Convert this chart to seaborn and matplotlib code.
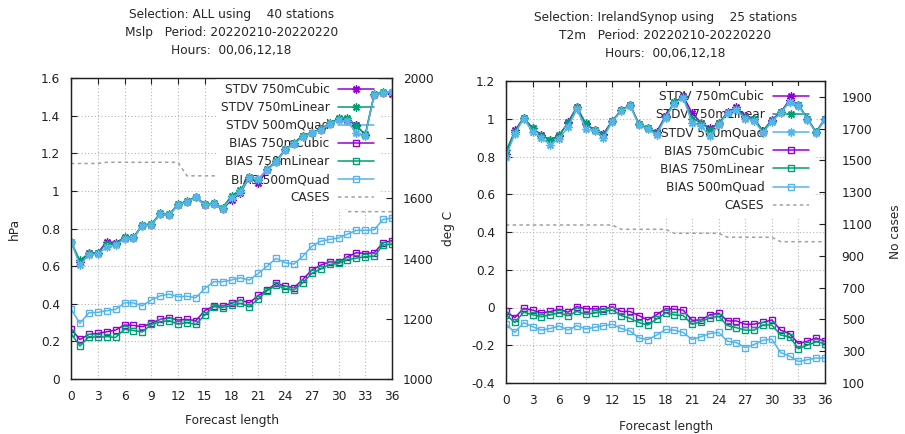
import matplotlib
matplotlib.use("Agg")
import matplotlib.pyplot as plt
import seaborn as sns
from matplotlib.ticker import FuncFormatter, FixedLocator

hours = list(range(37))
xticks = [0, 3, 6, 9, 12, 15, 18, 21, 24, 27, 30, 33, 36]

# ---------------- Left panel: Mslp ----------------
left_title = "Selection: ALL using    40 stations\nMslp   Period: 20220210-20220220\nHours:  00,06,12,18"
mslp_stdv_cubic = [0.73, 0.62, 0.67, 0.67, 0.73, 0.725, 0.75, 0.75, 0.815, 0.82, 0.875, 0.87, 0.925,
                   0.94, 0.965, 0.925, 0.93, 0.905, 0.95, 0.99, 1.07, 1.04, 1.11, 1.155, 1.215, 1.25,
                   1.29, 1.31, 1.325, 1.355, 1.38, 1.375, 1.35, 1.295, 1.51, 1.52, 1.515]
mslp_stdv_linear = [0.73, 0.63, 0.67, 0.67, 0.72, 0.72, 0.755, 0.755, 0.82, 0.825, 0.88, 0.875, 0.93,
                    0.945, 0.97, 0.93, 0.935, 0.91, 0.975, 1.005, 1.075, 1.06, 1.115, 1.16, 1.22, 1.255,
                    1.29, 1.31, 1.33, 1.36, 1.385, 1.39, 1.345, 1.30, 1.515, 1.525, 1.525]
mslp_stdv_quad = [0.73, 0.605, 0.66, 0.665, 0.70, 0.71, 0.745, 0.75, 0.815, 0.82, 0.875, 0.87, 0.925,
                  0.94, 0.965, 0.925, 0.93, 0.905, 0.96, 0.995, 1.07, 1.065, 1.11, 1.155, 1.215, 1.25,
                  1.285, 1.305, 1.325, 1.355, 1.375, 1.37, 1.305, 1.29, 1.51, 1.52, 1.525]
mslp_bias_cubic = [0.267, 0.21, 0.237, 0.242, 0.251, 0.26, 0.287, 0.285, 0.278, 0.296, 0.317, 0.326,
                   0.313, 0.317, 0.31, 0.363, 0.388, 0.388, 0.402, 0.42, 0.405, 0.444, 0.473, 0.508,
                   0.494, 0.485, 0.529, 0.579, 0.605, 0.623, 0.62, 0.65, 0.671, 0.667, 0.671, 0.724, 0.735]
mslp_bias_linear = [0.242, 0.175, 0.225, 0.221, 0.225, 0.221, 0.264, 0.257, 0.25, 0.29, 0.304, 0.31,
                    0.292, 0.299, 0.29, 0.34, 0.384, 0.38, 0.391, 0.402, 0.384, 0.425, 0.469, 0.499,
                    0.481, 0.473, 0.512, 0.561, 0.584, 0.609, 0.614, 0.635, 0.642, 0.65, 0.653, 0.712, 0.717]
mslp_bias_quad = [0.372, 0.296, 0.352, 0.354, 0.363, 0.37, 0.405, 0.405, 0.389, 0.42, 0.442, 0.451,
                  0.437, 0.44, 0.432, 0.481, 0.517, 0.517, 0.526, 0.538, 0.526, 0.561, 0.6, 0.641,
                  0.618, 0.611, 0.653, 0.705, 0.732, 0.742, 0.75, 0.77, 0.79, 0.79, 0.793, 0.849, 0.855]
mslp_cases = [1716, 1716, 1716, 1716, 1720, 1720, 1720, 1720, 1720, 1720, 1720, 1720, 1720,
              1675, 1675, 1675, 1675, 1675, 1675, 1640, 1640, 1640, 1640, 1640, 1640,
              1605, 1605, 1605, 1605, 1605, 1605, 1556, 1556, 1556, 1556, 1556, 1556]
left_yticks = [0, 0.2, 0.4, 0.6, 0.8, 1.0, 1.2, 1.4, 1.6]
left_y2ticks = [1000, 1200, 1400, 1600, 1800, 2000]

# ---------------- Right panel: T2m ----------------
right_title = "Selection: IrelandSynop using    25 stations\nT2m   Period: 20220210-20220220\nHours:  00,06,12,18"
t2m_stdv_cubic = [0.815, 0.938, 1.005, 0.95, 0.915, 0.885, 0.91, 0.982, 1.062, 0.97, 0.94, 0.92, 0.99,
                  1.044, 1.074, 0.973, 0.95, 0.93, 1.015, 1.085, 1.12, 1.03, 0.98, 0.95, 0.975, 1.035,
                  1.06, 1.015, 1.0, 0.935, 0.995, 1.035, 1.1, 1.075, 1.0, 0.93, 1.0]
t2m_stdv_linear = [0.832, 0.93, 1.005, 0.95, 0.91, 0.885, 0.915, 0.975, 1.062, 0.975, 0.94, 0.915, 0.99,
                   1.044, 1.074, 0.97, 0.95, 0.925, 1.01, 1.09, 1.115, 1.0, 0.98, 0.94, 0.975, 1.03,
                   1.05, 1.01, 1.0, 0.935, 0.99, 1.035, 1.09, 1.075, 1.0, 0.93, 1.0]
t2m_stdv_quad = [0.80, 0.92, 1.0, 0.93, 0.9, 0.86, 0.895, 0.955, 1.05, 0.947, 0.935, 0.9, 0.985,
                 1.04, 1.07, 0.965, 0.945, 0.915, 1.005, 1.08, 1.11, 0.98, 0.96, 0.91, 0.965, 1.03,
                 1.045, 1.0, 0.99, 0.925, 0.985, 1.03, 1.09, 1.07, 0.995, 0.925, 0.995]
t2m_bias_cubic = [-0.021, -0.054, -0.004, -0.014, -0.029, -0.021, -0.009, -0.025, 0.005, -0.007,
                  -0.007, -0.009, 0.004, -0.021, -0.021, -0.043, -0.066, -0.039, -0.007, -0.009,
                  -0.014, -0.068, -0.066, -0.039, -0.03, -0.071, -0.071, -0.089, -0.088, -0.079,
                  -0.066, -0.12, -0.138, -0.191, -0.179, -0.161, -0.179]
t2m_bias_linear = [-0.039, -0.079, -0.025, -0.039, -0.048, -0.039, -0.029, -0.043, -0.021, -0.036,
                   -0.029, -0.021, -0.013, -0.043, -0.057, -0.08, -0.093, -0.061, -0.03, -0.039,
                   -0.043, -0.089, -0.075, -0.054, -0.048, -0.096, -0.107, -0.12, -0.12, -0.093,
                   -0.093, -0.146, -0.155, -0.218, -0.2, -0.182, -0.191]
t2m_bias_quad = [-0.089, -0.132, -0.08, -0.102, -0.12, -0.111, -0.098, -0.12, -0.096, -0.114,
                 -0.105, -0.096, -0.089, -0.111, -0.125, -0.161, -0.17, -0.146, -0.116, -0.12,
                 -0.132, -0.17, -0.155, -0.138, -0.132, -0.179, -0.186, -0.212, -0.196, -0.173,
                 -0.168, -0.239, -0.257, -0.286, -0.277, -0.268, -0.268]
t2m_cases = [1094, 1094, 1094, 1094, 1094, 1094, 1094, 1094, 1094, 1094, 1094, 1094, 1094,
             1067, 1067, 1067, 1067, 1067, 1067, 1042, 1042, 1042, 1042, 1042, 1042,
             1017, 1017, 1017, 1017, 1017, 1017, 989, 989, 989, 989, 989, 989]
right_yticks = [-0.4, -0.2, 0, 0.2, 0.4, 0.6, 0.8, 1.0, 1.2]
right_y2ticks = [100, 300, 500, 700, 900, 1100, 1300, 1500, 1700, 1900]

series_labels = ["STDV 750mCubic", "STDV 750mLinear", "STDV 500mQuad",
                 "BIAS 750mCubic", "BIAS 750mLinear", "BIAS 500mQuad"]
series_colors = ["#9400D3", "#009E73", "#56B4E9", "#9400D3", "#009E73", "#56B4E9"]
cases_color = "#A0A0A0"

sns.set_style("white")
plt.rcParams["font.family"] = ["DejaVu Sans"]
FS = 8.7

fig = plt.figure(figsize=(9.05, 4.34), dpi=100)
axL = fig.add_axes([71 / 905, 1 - 379 / 434, 321 / 905, 301 / 434])
axR = fig.add_axes([506 / 905, 1 - 383 / 434, 319 / 905, 302 / 434])

fmt = FuncFormatter(lambda v, p: "%g" % round(v, 6))


def draw_panel(ax, title, stdv, bias, cases, ylim, yticks, y2lim, y2ticks,
               ylabel, y2label, leg_anchor, y2pad, y2labelpad, xlabelpad):
    ax2 = ax.twinx()
    ax.set_zorder(2)
    ax2.set_zorder(1)
    ax.patch.set_visible(False)
    ax2.patch.set_facecolor("white")

    handles = []
    for vals, lab, col in zip(stdv, series_labels[:3], series_colors[:3]):
        sns.lineplot(x=hours, y=vals, ax=ax, color=col, linewidth=1.1,
                     marker=(8, 2, 0), markersize=5.8, markeredgecolor=col,
                     markeredgewidth=1.0, label=lab, legend=False)
        handles.append(ax.lines[-1])
    for vals, lab, col in zip(bias, series_labels[3:], series_colors[3:]):
        sns.lineplot(x=hours, y=vals, ax=ax, color=col, linewidth=1.1,
                     marker="s", markersize=4.8, markeredgecolor=col,
                     markerfacecolor="none", markeredgewidth=1.0, label=lab, legend=False)
        handles.append(ax.lines[-1])
    sns.lineplot(x=hours, y=cases, ax=ax2, color=cases_color, linewidth=1.1,
                 linestyle=(0, (2.2, 2.2)), label="CASES", legend=False)
    handles.append(ax2.lines[-1])

    ax.set_xlim(0, 36)
    ax.set_ylim(*ylim)
    ax2.set_ylim(*y2lim)
    ax.xaxis.set_major_locator(FixedLocator(xticks))
    ax.yaxis.set_major_locator(FixedLocator(yticks))
    ax2.yaxis.set_major_locator(FixedLocator(y2ticks))
    ax.yaxis.set_major_formatter(fmt)
    ax2.yaxis.set_major_formatter(fmt)

    ax.set_axisbelow(True)
    ax.grid(True, color="#b4b4b4", linestyle=(0, (1, 2)), linewidth=0.8)

    ax.tick_params(axis="both", direction="in", length=4, width=0.8, labelsize=FS,
                   top=True, right=False, colors="#202020")
    ax.tick_params(axis="y", pad=8)
    ax.tick_params(axis="x", pad=8)
    ax2.tick_params(axis="y", direction="in", length=4, width=0.8, labelsize=FS,
                    pad=y2pad, colors="#202020")
    for a in (ax, ax2):
        for s in a.spines.values():
            s.set_linewidth(0.9)
            s.set_color("#202020")
            s.set_visible(True)

    ax.set_xlabel("Forecast length", fontsize=FS, labelpad=xlabelpad)
    if ylabel:
        ax.set_ylabel(ylabel, fontsize=FS, labelpad=14)
    ax2.set_ylabel(y2label, fontsize=FS, labelpad=y2labelpad)
    ax.set_title(title, fontsize=FS, linespacing=1.5, pad=17)

    leg = ax.legend(handles=handles, labels=series_labels + ["CASES"], loc="upper right",
                    bbox_to_anchor=leg_anchor, borderaxespad=0, markerfirst=False,
                    frameon=True, fancybox=False, facecolor="white", edgecolor="none",
                    framealpha=1, fontsize=FS, handlelength=3.0, handletextpad=0.7,
                    labelspacing=0.42, borderpad=0.4)
    leg.set_zorder(1.5)
    return ax2


draw_panel(axL, left_title,
           [mslp_stdv_cubic, mslp_stdv_linear, mslp_stdv_quad],
           [mslp_bias_cubic, mslp_bias_linear, mslp_bias_quad],
           mslp_cases, (0, 1.6), left_yticks, (1000, 2000), left_y2ticks,
           "hPa", "deg C", (0.96, 1.0), 8, 6, 8)
draw_panel(axR, right_title,
           [t2m_stdv_cubic, t2m_stdv_linear, t2m_stdv_quad],
           [t2m_bias_cubic, t2m_bias_linear, t2m_bias_quad],
           t2m_cases, (-0.4, 1.2), right_yticks, (100, 2000), right_y2ticks,
           None, "No cases", (0.965, 0.985), 12, 12, 9)

fig.savefig("out.png", dpi=100)
